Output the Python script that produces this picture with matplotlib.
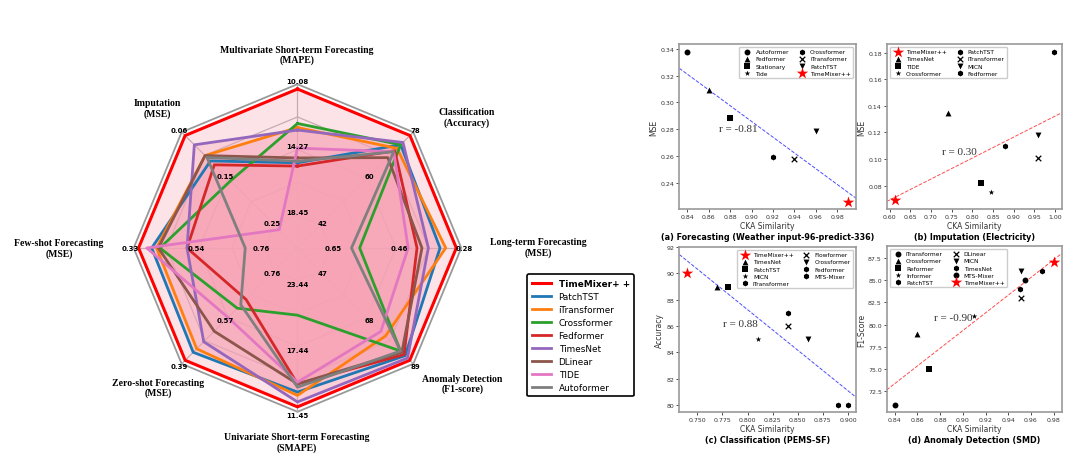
import matplotlib.pyplot as plt
import numpy as np
from matplotlib.ticker import MultipleLocator

# ---------------- radar data ----------------
tasks = ['Multivariate Short-term Forecasting\n(MAPE)', 'Classification\n(Accuracy)',
         'Long-term Forecasting\n(MSE)', 'Anomaly Detection\n(F1-score)',
         'Univariate Short-term Forecasting\n(SMAPE)', 'Zero-shot Forecasting\n(MSE)',
         'Few-shot Forecasting\n(MSE)', 'Imputation\n(MSE)']
# axis tick values: outer ring, middle ring, inner ring
tick_outer = [10.08, 78, 0.28, 89, 11.45, 0.39, 0.33, 0.06]
tick_mid = [14.27, 60, 0.46, 68, 17.44, 0.57, 0.54, 0.15]
tick_inner = [18.45, 42, 0.65, 47, 23.44, 0.76, 0.76, 0.25]

timemixer_pp = [10.39, 76.7, 0.294, 87.4, 11.90, 0.404, 0.346, 0.067]
patchtst = [15.10, 73.1, 0.340, 85.3, 13.25, 0.436, 0.389, 0.119]
itransformer = [12.85, 71.7, 0.324, 76.4, 12.95, 0.450, 0.405, 0.108]
crossformer = [12.59, 73.1, 0.567, 83.2, 20.29, 0.612, 0.416, 0.160]
fedformer = [15.31, 70.8, 0.405, 84.8, 14.00, 0.647, 0.505, 0.127]
timesnet = [13.01, 74.0, 0.373, 86.4, 12.35, 0.478, 0.505, 0.086]
dlinear = [14.79, 68.1, 0.391, 83.8, 14.00, 0.520, 0.411, 0.108]
tide = [14.16, 70.4, 0.430, 74.3, 14.15, 0.575, 0.373, 0.260]
autoformer = [15.00, 70.4, 0.590, 83.2, 13.70, 0.626, 0.696, 0.112]

model_names = ['TimeMixer+ +', 'PatchTST', 'iTransformer', 'Crossformer', 'Fedformer',
               'TimesNet', 'DLinear', 'TIDE', 'Autoformer']
model_values = [timemixer_pp, patchtst, itransformer, crossformer, fedformer,
                timesnet, dlinear, tide, autoformer]
model_colors = ['#ff0000', 'tab:blue', 'tab:orange', 'tab:green', 'tab:red',
                'tab:purple', 'tab:brown', 'tab:pink', 'tab:gray']

# ---------------- scatter data ----------------
a_names = ['Autoformer', 'Fedformer', 'Stationary', 'Tide', 'Crossformer', 'iTransformer', 'PatchTST', 'TimeMixer++']
a_cka = [0.84, 0.86, 0.88, 0.88, 0.92, 0.94, 0.96, 0.99]
a_mse = [0.338, 0.309, 0.288, 0.288, 0.259, 0.258, 0.279, 0.226]
a_markers = ['o', '^', 's', '*', 'h', 'x', 'v', '*']

b_names = ['TimeMixer++', 'TimesNet', 'TIDE', 'Crossformer', 'PatchTST', 'iTransformer', 'MICN', 'Fedformer']
b_cka = [0.612, 0.74, 0.82, 0.845, 0.88, 0.96, 0.96, 0.997]
b_mse = [0.069, 0.135, 0.082, 0.075, 0.110, 0.101, 0.118, 0.181]
b_markers = ['*', '^', 's', '*', 'h', 'x', 'v', 'h']

c_names = ['TimeMixer++', 'TimesNet', 'PatchTST', 'MICN', 'iTransformer', 'Flowformer', 'Crossformer', 'Fedformer', 'MTS-Mixer']
c_cka = [0.74, 0.77, 0.78, 0.81, 0.84, 0.84, 0.86, 0.89, 0.90]
c_acc = [90, 89, 89, 85, 87, 86, 85, 80, 80]
c_markers = ['*', '^', 's', '*', 'h', 'x', 'v', 'h', 'h']

d_names = ['iTransformer', 'Crossformer', 'Reformer', 'Informer', 'PatchTST', 'DLinear', 'MICN', 'TimesNet', 'MTS-Mixer', 'TimeMixer++']
d_cka = [0.84, 0.86, 0.87, 0.91, 0.97, 0.951, 0.951, 0.95, 0.955, 0.98]
d_f1 = [71.0, 79.0, 75.0, 81.0, 86.0, 83.0, 86.0, 84.0, 85.0, 87.0]
d_markers = ['o', '^', 's', '*', 'h', 'x', 'v', 'h', 'o', '*']

fig = plt.figure(figsize=(10.8, 4.64), dpi=100)

# ---------------- radar chart ----------------
ax = fig.add_axes([0.1162, 0.0927, 0.3185, 0.7414], polar=True)
ax.set_theta_offset(np.pi / 2)
ax.set_theta_direction(-1)
ax.set_ylim(0, 1.05)
ax.set_xticks([])
ax.set_yticks([])
ax.grid(False)
ax.spines['polar'].set_visible(False)

n = len(tasks)
angles = np.linspace(0, 2 * np.pi, n, endpoint=False)
closed = np.append(angles, angles[0])

for rr in [0.2, 0.4, 0.6, 0.8]:
    ax.plot(closed, [rr] * (n + 1), color='#b0b0b0', lw=0.9, zorder=1)
ax.plot(closed, [1.0] * (n + 1), color='#999999', lw=1.3, zorder=1)
for a in angles:
    ax.plot([a, a], [0, 1], color='#b0b0b0', lw=0.9, zorder=1)


def to_radius(vals):
    v = np.array(vals, dtype=float)
    lo = np.array(tick_inner, dtype=float)
    hi = np.array(tick_outer, dtype=float)
    return 0.2 + 0.8 * (v - lo) / (hi - lo)


for name, vals, col in zip(model_names, model_values, model_colors):
    r = to_radius(vals)
    rc = np.append(r, r[0])
    ax.fill(closed, rc, color='#f7a3b5', alpha=0.3, lw=0, zorder=2)
    ax.plot(closed, rc, color=col, lw=2.2 if name.startswith('TimeMixer') else 2.0,
            label=name, zorder=3)

for i, a in enumerate(angles):
    for rr, val in [(1.0, tick_outer[i]), (0.6, tick_mid[i]), (0.2, tick_inner[i])]:
        ax.text(a, rr + 0.02, f'{val:g}', ha='center', va='center', fontsize=5,
                fontweight='bold', zorder=5)

label_pos = [(297, 55.5), (467, 118), (538, 248), (462.5, 384.5),
             (297, 443), (158, 388.5), (59, 249), (157, 109)]
for t, (px, py) in zip(tasks, label_pos):
    fig.text(px / 1080, 1 - py / 464, t, ha='center', va='center', fontsize=7,
             fontweight='bold', family='Liberation Serif', linespacing=1.1)

leg = ax.legend(loc='upper left', bbox_to_anchor=(523 / 1080, 1 - 271 / 464),
                bbox_transform=fig.transFigure, fontsize=6.4, handlelength=2.2,
                labelspacing=0.45, borderpad=0.5, framealpha=1, edgecolor='black')
leg.get_frame().set_linewidth(1.2)
leg.get_texts()[0].set_fontweight('bold')


# ---------------- scatter panels ----------------
def panel(rect, names, cka, metric, markers, line_color, r_text, r_xy, ylabel, title,
          legend_loc, xstep, ystep):
    sax = fig.add_axes(rect)
    for nm, x, y, m in zip(names, cka, metric, markers):
        if nm == 'TimeMixer++':
            sax.scatter(x, y, marker='*', s=75, color='red', label=nm, zorder=3, linewidths=0)
        elif m == 'x':
            sax.scatter(x, y, marker='x', s=16, color='black', label=nm, zorder=3, linewidths=0.9)
        else:
            sax.scatter(x, y, marker=m, s=18, color='black', label=nm, zorder=3, linewidths=0)
    xlim = sax.get_xlim()
    k, b = np.polyfit(cka, metric, 1)
    xs = np.array(xlim)
    sax.plot(xs, k * xs + b, '--', color=line_color, lw=0.7, alpha=0.7, zorder=2)
    sax.set_xlim(xlim)
    sax.text(r_xy[0], r_xy[1], r_text, fontsize=8, family='Liberation Serif',
             color='#333333', va='center', ha='left')
    sax.xaxis.set_major_locator(MultipleLocator(xstep))
    sax.yaxis.set_major_locator(MultipleLocator(ystep))
    sax.tick_params(labelsize=4.5, length=2, width=0.6, colors='#333333', pad=1.5)
    for sp in sax.spines.values():
        sp.set_color('#999999')
        sp.set_linewidth(1.2)
    sax.set_xlabel('CKA Similarity', fontsize=5.5, labelpad=1.5, color='#333333')
    sax.set_ylabel(ylabel, fontsize=5.5, labelpad=1.5, color='#333333')
    sax.text(0.5, -0.165, title, transform=sax.transAxes, ha='center', va='center',
             fontsize=5.8, fontweight='bold')
    sax.legend(loc=legend_loc, ncol=2, fontsize=4.2, labelspacing=0.35,
               columnspacing=1.2, handletextpad=0.4, borderpad=0.4, framealpha=1)
    return sax


panel([0.629, 0.5474, 0.1636, 0.3556], a_names, a_cka, a_mse, a_markers, 'blue',
      'r = -0.81', (0.870, 0.2803), 'MSE', '(a) Forecasting (Weather input-96-predict-336)',
      'upper right', 0.02, 0.02)
panel([0.821, 0.5474, 0.162, 0.3556], b_names, b_cka, b_mse, b_markers, 'red',
      'r = 0.30', (0.726, 0.1054), 'MSE', '(b) Imputation (Electricity)',
      'upper left', 0.05, 0.02)
panel([0.629, 0.1092, 0.1636, 0.3563], c_names, c_cka, c_acc, c_markers, 'blue',
      'r = 0.88', (0.776, 86.16), 'Accuracy', '(c) Classification (PEMS-SF)',
      'upper right', 0.025, 2)
panel([0.821, 0.1092, 0.162, 0.3585], d_names, d_cka, d_f1, d_markers, 'red',
      'r = -0.90', (0.8744, 80.86), 'F1-Score', '(d) Anomaly Detection (SMD)',
      'upper left', 0.02, 2.5)

fig.savefig('out.png', dpi=100, facecolor='white')
